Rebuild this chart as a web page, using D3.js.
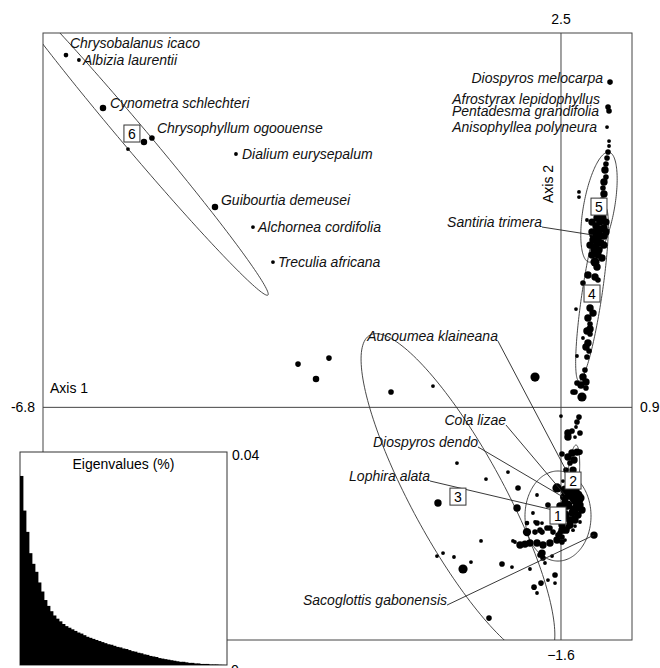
<!DOCTYPE html>
<html>
<head>
<meta charset="utf-8">
<script src="https://cdnjs.cloudflare.com/ajax/libs/d3/7.8.5/d3.min.js"></script>
<style>
  body { margin: 0; background: #fff; }
  text { font-family: "Liberation Sans", Arial, sans-serif; }
</style>
</head>
<body>
<div class="canvas"></div>
<script>
// axis limits of the factorial map and the labels printed at the ends
var xLim = [-6.762, 0.927];
var yLim = [-1.550, 2.494];
var xLimLabels = ["-6.8", "0.9"];
var yLimLabels = ["\u22121.6", "2.5"];

// species coordinates (axis 1, axis 2) and weights
var speciesNames = ["Chrysobalanus icaco", "Albizia laurentii", "Cynometra schlechteri",
  "Chrysophyllum ogoouense", "Dialium eurysepalum", "Guibourtia demeusei",
  "Alchornea cordifolia", "Treculia africana", "Diospyros melocarpa",
  "Afrostyrax lepidophyllus", "Pentadesma grandifolia", "Anisophyllea polyneura",
  "Santiria trimera", "Aucoumea klaineana", "Cola lizae", "Diospyros dendo",
  "Lophira alata", "Sacoglottis gabonensis"];
var speciesX = [-6.462, -6.293, -5.979, -5.340, -4.243, -4.517, -4.021, -3.760, 0.640,
  0.614, 0.627, 0.601, 0.418, 0.065, 0.052, 0.026, -0.104, 0.431];
var speciesY = [2.347, 2.314, 1.994, 1.794, 1.688, 1.334, 1.201, 0.968, 2.167,
  2.001, 1.974, 1.867, 1.148, -0.418, -0.584, -0.597, -0.684, -0.851];
var speciesW = [1.5, 1, 2.5, 2, 1, 2.5, 1, 1, 2, 2, 2, 1, 3, 2, 2, 2, 2, 3];

// other (unlabelled) species: [axis1, axis2, weight]
var sites = [
  [-5.444, 1.767, 2.5], [-5.653, 1.721, 1],
  [-3.433, 0.288, 2], [-3.029, 0.328, 2], [-3.198, 0.189, 2.5], [-2.219, 0.102, 2],
  [-1.671, 0.142, 1], [-0.339, 0.202, 4],
  [0.627, 1.774, 1], [0.627, 1.741, 1], [0.614, 1.701, 2], [0.601, 1.661, 2],
  [0.587, 1.621, 2], [0.574, 1.581, 3], [0.587, 1.534, 2], [0.561, 1.501, 3],
  [0.548, 1.461, 2], [0.561, 1.421, 3], [0.535, 1.381, 2], [0.522, 1.341, 2],
  [0.509, 1.301, 3], [0.470, 1.261, 3], [0.548, 1.261, 3], [0.509, 1.234, 3],
  [0.457, 1.208, 3], [0.561, 1.195, 3], [0.496, 1.181, 4], [0.444, 1.155, 4],
  [0.509, 1.141, 3], [0.561, 1.141, 3], [0.470, 1.115, 4], [0.418, 1.115, 3],
  [0.522, 1.095, 3], [0.457, 1.075, 3], [0.496, 1.048, 3], [0.431, 1.048, 3],
  [0.405, 1.234, 3], [0.587, 1.234, 3], [0.405, 1.168, 3], [0.587, 1.168, 3],
  [0.379, 1.081, 3], [0.561, 1.081, 3], [0.405, 1.015, 3], [0.535, 0.995, 3],
  [0.483, 1.015, 3], [0.444, 0.968, 4], [0.470, 0.935, 3], [0.352, 0.882, 3],
  [0.444, 0.868, 3], [0.483, 0.848, 2], [0.287, 0.828, 2], [0.379, 0.795, 2],
  [0.196, 0.655, 1], [0.379, 0.662, 3], [0.418, 0.628, 3], [0.352, 0.595, 3],
  [0.379, 0.555, 2], [0.379, 0.522, 3], [0.339, 0.509, 3], [0.379, 0.489, 2],
  [0.287, 0.462, 1], [0.352, 0.429, 3], [0.326, 0.402, 3], [0.366, 0.375, 2],
  [0.209, 0.342, 1], [0.339, 0.335, 2], [0.313, 0.249, 2], [0.287, 0.202, 3],
  [0.326, 0.169, 3], [0.261, 0.149, 3], [0.326, 0.129, 2], [0.183, 0.102, 2],
  [0.274, 0.069, 4], [0.157, 0.102, 2], [0.209, 0.162, 2],
  [0.235, 1.435, 1], [0.235, 1.401, 1], [0.339, 1.248, 1],
  [0.000, -0.058, 1], [0.235, -0.065, 2], [0.209, -0.098, 2], [0.196, -0.131, 1],
  [0.091, -0.171, 3], [0.144, -0.158, 2], [0.248, -0.171, 2], [0.091, -0.198, 3],
  [0.183, -0.198, 1], [0.013, -0.311, 2], [0.091, -0.331, 3], [0.144, -0.304, 3],
  [0.209, -0.298, 3], [0.248, -0.298, 2], [0.117, -0.371, 2], [0.170, -0.351, 3],
  [0.026, -0.491, 1], [-0.052, -0.537, 4], [0.157, -0.418, 3],
  [0.183, -0.617, 4], [0.209, -0.664, 4], [0.144, -0.704, 3], [0.052, -0.637, 3],
  [0.117, -0.584, 4], [0.248, -0.604, 4], [0.065, -0.651, 4], [0.222, -0.717, 3],
  [0.026, -0.751, 3], [0.117, -0.751, 3], [0.157, -0.597, 4], [0.209, -0.631, 4],
  [0.052, -0.551, 4], [0.117, -0.538, 4], [0.183, -0.551, 4], [0.222, -0.584, 4],
  [0.052, -0.598, 4], [0.091, -0.651, 4], [0.170, -0.684, 4], [0.052, -0.717, 4],
  [0.117, -0.784, 3], [0.065, -0.818, 3], [0.183, -0.751, 3], [0.248, -0.651, 3],
  [0.013, -0.784, 3], [-0.013, -0.837, 2], [-0.170, -0.651, 2], [-0.144, -0.804, 2],
  [0.013, -0.864, 2],
  [0.091, -0.798, 2], [0.183, -0.791, 1], [0.170, -0.737, 2], [-0.013, -0.657, 3],
  [-0.065, -0.704, 2], [0.013, -0.818, 3], [-0.039, -0.851, 2], [0.274, -0.684, 3],
  [0.248, -0.764, 1], [0.157, -0.818, 1],
  [-0.313, -0.584, 1], [-0.561, -0.537, 2], [-0.692, -0.431, 1], [-0.574, -0.671, 3],
  [-0.366, -0.704, 1], [-0.444, -0.771, 1.5], [-0.313, -0.771, 2], [-0.248, -0.771, 1],
  [-0.444, -0.831, 3.5], [-0.339, -0.831, 2], [-0.248, -0.831, 2], [-0.104, -0.831, 2],
  [-0.052, -0.884, 3], [0.013, -0.897, 2], [0.052, -0.884, 1], [-0.601, -0.897, 1],
  [-0.535, -0.917, 3], [-0.470, -0.911, 3], [-0.405, -0.904, 3], [-0.313, -0.904, 3],
  [-0.235, -0.917, 3], [-0.144, -0.904, 3], [-0.183, -0.804, 2], [-0.274, -0.818, 2],
  [-0.339, -0.764, 1], [-0.248, -0.971, 3], [-0.235, -1.004, 2], [-0.209, -1.037, 1],
  [-0.117, -0.991, 1], [-0.078, -1.117, 2], [-0.170, -1.151, 1], [-0.261, -1.171, 2],
  [-0.352, -1.198, 2], [-0.078, -1.171, 1], [-0.313, -1.237, 1], [-0.274, -0.984, 2],
  [-0.405, -1.077, 1], [-0.640, -1.064, 1], [-0.770, -1.044, 2], [-0.940, -1.404, 2],
  [-1.175, -1.031, 1], [-1.279, -1.077, 4], [-1.397, -0.997, 1], [-1.540, -0.971, 1],
  [-1.619, -0.991, 1], [-1.044, -0.890, 1], [-0.627, -0.890, 1], [-1.606, -0.637, 3],
  [-1.358, -0.371, 1], [-0.979, -0.478, 1]
];

// groups: centroid and ellipse semi-axes (data units)
var classLabels = ["1", "2", "3", "4", "5", "6"];
var classX = [-0.039, 0.157, -1.345, 0.405, 0.496, -5.601];
var classY = [-0.724, -0.491, -0.598, 0.755, 1.334, 1.821];
var ellipseU = [[0.431, 0], [0.039, 0.240], [1.149, -1.079], [-0.170, -0.580], [0.131, 0.366], [1.775, -1.073]];
var ellipseV = [[0, 0.300], [0.078, 0], [-0.529, -0.147], [0.129, -0.010], [0.198, -0.019], [-0.125, -0.054]];

// eigenvalues (%) for the inset
var eigenTicks = ["0", "0.04"];
var eigenMax = 0.04;
var eigenvalues = [0.0355, 0.0290, 0.0250, 0.0210, 0.0190, 0.0175, 0.0155, 0.0138, 0.0122, 0.0111,
  0.0101, 0.0093, 0.0087, 0.0082, 0.0077, 0.0073, 0.0070, 0.0067, 0.0064, 0.0061,
  0.0059, 0.0056, 0.0053, 0.0051, 0.0049, 0.0047, 0.0045, 0.0043, 0.0041, 0.0039,
  0.0038, 0.0036, 0.0034, 0.0033, 0.0031, 0.0030, 0.0028, 0.0026, 0.0025, 0.0023,
  0.0022, 0.0020, 0.0019, 0.0017, 0.0016, 0.0015, 0.0013, 0.0012, 0.0011, 0.0010,
  0.0009, 0.0008, 0.0007, 0.0006, 0.0006, 0.0005, 0.0004, 0.0004, 0.0003, 0.0003,
  0.0002, 0.0002, 0.0002, 0.0001, 0.0001, 0.0001, 0.00005, 0.00003, 0.00001];

// label placement (pixels from the point): dx, dy, anchor, leader line
var labelLayout = [
  [4, -12, "start", false], [4, 0, "start", false], [7, -5, "start", false],
  [5, -10, "start", false], [6, 0, "start", false], [6, -7, "start", false],
  [5, 0, "start", false], [5, 0, "start", false], [-7, -4, "end", false],
  [-8, -8, "end", false], [-10, 0, "end", false], [-10, 0, "end", false],
  [-51, -13, "end", true], [-68, -134, "end", true], [-59, -75, "end", true],
  [-85, -55, "end", true], [-123, -34, "end", true], [-147, 65, "end", true]
];

(function() {
  var W = 660, H = 668;
  var fLeft = 43, fRight = 632, fTop = 33, fBottom = 640;
  var fs = 14;

  var svg = d3.select(".canvas").append("svg")
    .attr("width", W)
    .attr("height", H);

  var x = d3.scaleLinear().domain(xLim).range([fLeft, fRight]);
  var y = d3.scaleLinear().domain(yLim).range([fBottom, fTop]);
  var r = d3.scaleLinear().domain([1, 4]).range([1.9, 4.6]);

  svg.append("clipPath").attr("id", "frame")
    .append("rect")
    .attr("x", fLeft).attr("y", fTop)
    .attr("width", fRight - fLeft).attr("height", fBottom - fTop);

  // frame and zero axes
  svg.append("rect")
    .attr("x", fLeft).attr("y", fTop)
    .attr("width", fRight - fLeft).attr("height", fBottom - fTop)
    .attr("fill", "none").attr("stroke", "#444").attr("stroke-width", 1);

  svg.append("line")
    .attr("x1", x(0)).attr("x2", x(0)).attr("y1", fTop).attr("y2", fBottom)
    .attr("stroke", "#444").attr("stroke-width", 1);
  svg.append("line")
    .attr("x1", fLeft).attr("x2", fRight).attr("y1", y(0)).attr("y2", y(0))
    .attr("stroke", "#444").attr("stroke-width", 1);

  var plot = svg.append("g").attr("clip-path", "url(#frame)");

  // ellipses
  var ts = d3.range(0, 2 * Math.PI, Math.PI / 90);
  var line = d3.line().curve(d3.curveLinearClosed);
  plot.selectAll(".ell")
    .data(classLabels)
    .enter()
    .append("path")
    .attr("class", "ell")
    .attr("fill", "none")
    .attr("stroke", "#333")
    .attr("stroke-width", 0.9)
    .attr("d", function(d, i) {
      var u = ellipseU[i], v = ellipseV[i];
      return line(ts.map(function(t) {
        return [x(classX[i] + Math.cos(t) * u[0] + Math.sin(t) * v[0]),
                y(classY[i] + Math.cos(t) * u[1] + Math.sin(t) * v[1])];
      }));
    });

  // points
  plot.selectAll(".site")
    .data(sites)
    .enter()
    .append("circle")
    .attr("class", "site")
    .attr("cx", function(d) { return x(d[0]); })
    .attr("cy", function(d) { return y(d[1]); })
    .attr("r", function(d) { return r(d[2]); })
    .attr("fill", "#000");

  plot.selectAll(".sp")
    .data(speciesNames)
    .enter()
    .append("circle")
    .attr("class", "sp")
    .attr("cx", function(d, i) { return x(speciesX[i]); })
    .attr("cy", function(d, i) { return y(speciesY[i]); })
    .attr("r", function(d, i) { return r(speciesW[i]); })
    .attr("fill", "#000");

  // leader lines and labels
  speciesNames.forEach(function(name, i) {
    var px = x(speciesX[i]), py = y(speciesY[i]);
    var lay = labelLayout[i];
    if (lay[3]) {
      svg.append("line")
        .attr("x1", px + lay[0]).attr("y1", py + lay[1] + 5)
        .attr("x2", px).attr("y2", py)
        .attr("stroke", "#222").attr("stroke-width", 0.9);
    }
    svg.append("text")
      .attr("x", px + lay[0])
      .attr("y", py + lay[1])
      .attr("dy", "0.35em")
      .attr("text-anchor", lay[2])
      .attr("font-style", "italic")
      .attr("font-size", fs)
      .attr("fill", "#111")
      .text(name);
  });

  // class boxes
  var boxes = svg.selectAll(".box")
    .data(classLabels)
    .enter()
    .append("g")
    .attr("class", "box")
    .attr("transform", function(d, i) {
      return "translate(" + x(classX[i]) + "," + y(classY[i]) + ")";
    });
  boxes.append("rect")
    .attr("x", -8).attr("y", -9).attr("width", 16).attr("height", 17)
    .attr("fill", "#fff").attr("stroke", "#333").attr("stroke-width", 1);
  boxes.append("text")
    .attr("text-anchor", "middle")
    .attr("dy", "0.35em")
    .attr("font-size", fs)
    .text(function(d) { return d; });

  // axis names and limits
  svg.append("text").attr("x", 50).attr("y", 388).attr("dy", "0.35em")
    .attr("font-size", fs).text("Axis 1");
  svg.append("text")
    .attr("transform", "translate(" + (x(0) - 13) + ",184) rotate(-90)")
    .attr("text-anchor", "middle").attr("dy", "0.35em")
    .attr("font-size", fs).text("Axis 2");

  svg.append("text").attr("x", 35).attr("y", y(0)).attr("dy", "0.35em")
    .attr("text-anchor", "end").attr("font-size", fs).text(xLimLabels[0]);
  svg.append("text").attr("x", fRight + 8).attr("y", y(0)).attr("dy", "0.35em")
    .attr("font-size", fs).text(xLimLabels[1]);
  svg.append("text").attr("x", x(0)).attr("y", 655).attr("dy", "0.35em")
    .attr("text-anchor", "middle").attr("font-size", fs).text(yLimLabels[0]);
  svg.append("text").attr("x", x(0)).attr("y", 19).attr("dy", "0.35em")
    .attr("text-anchor", "middle").attr("font-size", fs).text(yLimLabels[1]);

  // eigenvalue inset
  var eL = 20, eR = 227, eT = 452, eB = 665;
  var ex = d3.scaleBand().domain(d3.range(eigenvalues.length)).range([eL, eR]).padding(0);
  var ey = d3.scaleLinear().domain([0, eigenMax]).range([eB, eT]);

  svg.append("rect")
    .attr("x", eL).attr("y", eT).attr("width", eR - eL).attr("height", eB - eT)
    .attr("fill", "#fff").attr("stroke", "#333").attr("stroke-width", 1);

  svg.append("g")
    .selectAll("rect")
    .data(eigenvalues)
    .enter()
    .append("rect")
    .attr("x", function(d, i) { return ex(i); })
    .attr("y", function(d) { return ey(d); })
    .attr("width", ex.bandwidth() + 0.4)
    .attr("height", function(d) { return eB - ey(d); })
    .attr("fill", "#000");

  svg.append("text").attr("x", (eL + eR) / 2).attr("y", 464).attr("dy", "0.35em")
    .attr("text-anchor", "middle").attr("font-size", fs).text("Eigenvalues (%)");
  svg.append("text").attr("x", eR + 5).attr("y", eT + 3).attr("dy", "0.35em")
    .attr("font-size", fs).text(eigenTicks[1]);
  svg.append("text").attr("x", eR + 4).attr("y", eB + 5).attr("dy", "0.35em")
    .attr("font-size", fs).text(eigenTicks[0]);
})();
</script>
</body>
</html>
